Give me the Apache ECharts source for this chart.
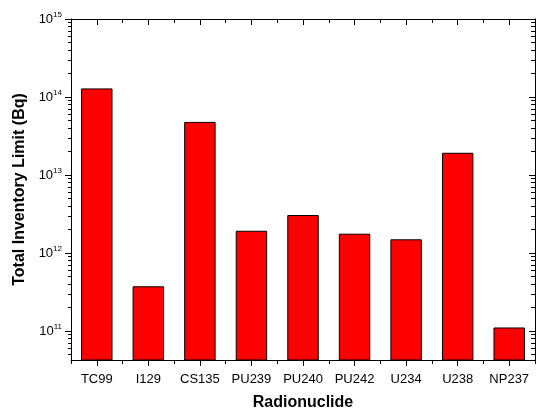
<!DOCTYPE html>
<html>
<head>
<meta charset="utf-8">
<script src="https://cdn.jsdelivr.net/npm/echarts@6/dist/echarts.min.js"></script>
<style>
  html, body { margin: 0; padding: 0; background: #fff; }
  #main { width: 538px; height: 410px; }
</style>
</head>
<body>
<div id="main"></div>
<script>
var nuclides = ['TC99', 'I129', 'CS135', 'PU239', 'PU240', 'PU242', 'U234', 'U238', 'NP237'];
var inventoryLimit = [1.29e14, 3.75e11, 4.8e13, 1.93e12, 3.07e12, 1.77e12, 1.5e12, 1.93e13, 1.11e11];
var majorTicks = [1e11, 1e12, 1e13, 1e14, 1e15];
var minorMults = [2, 3, 4, 5, 6, 7, 8, 9];
var decades = [1e10, 1e11, 1e12, 1e13, 1e14];

// max nudged a hair above 1e15 so the top tick/label survives float rounding
var yMin = 4.25e10, yMax = 1.002e15;

var minorTicks = [];
decades.forEach(function (d) {
  minorMults.forEach(function (m) {
    var v = m * d;
    if (v >= yMin && v <= yMax) minorTicks.push(v);
  });
});

var font = '"Liberation Sans", Arial, sans-serif';
var lineStyle = { color: '#000', width: 1 };

function yAxisBase(position, ticks, len, inside) {
  return {
    type: 'log',
    logBase: 10,
    min: yMin,
    max: yMax,
    position: position,
    axisLine: { show: false },
    splitLine: { show: false },
    axisLabel: { show: false },
    axisTick: { show: true, inside: inside, length: len, customValues: ticks, lineStyle: lineStyle }
  };
}

function xAxisBase(position, centered, len, inside) {
  return {
    type: 'category',
    data: nuclides,
    position: position,
    axisLine: { show: false },
    splitLine: { show: false },
    axisLabel: { show: false },
    axisTick: { show: true, interval: 0, alignWithLabel: centered, inside: inside, length: len, lineStyle: lineStyle }
  };
}

var myChart = echarts.init(document.getElementById('main'));

var xBottom = xAxisBase('bottom', true, 6, false);
xBottom.axisLine = { show: true, lineStyle: lineStyle };
xBottom.axisLabel = { show: true, interval: 0, hideOverlap: false, color: '#000', fontFamily: font, fontSize: 13, margin: 13 };
xBottom.name = 'Radionuclide';
xBottom.nameLocation = 'middle';
xBottom.nameGap = 35;
xBottom.nameTextStyle = { color: '#000', fontFamily: font, fontSize: 16, fontWeight: 'bold' };

var xTop = xAxisBase('top', true, 6, true);
xTop.axisLine = { show: true, lineStyle: lineStyle };

var yLeft = yAxisBase('left', majorTicks, 6, false);
yLeft.axisLine = { show: true, lineStyle: lineStyle };
yLeft.axisLabel = {
  show: true,
  customValues: majorTicks,
  showMinLabel: true,
  showMaxLabel: true,
  hideOverlap: false,
  margin: 9,
  formatter: function (v) {
    return '{b|10}{s|' + Math.round(Math.log10(v)) + '}';
  },
  rich: {
    b: { color: '#000', fontFamily: font, fontSize: 13 },
    s: { color: '#000', fontFamily: font, fontSize: 8, padding: [0, 0, 8, 0] }
  }
};
yLeft.name = 'Total Inventory Limit (Bq)';
yLeft.nameLocation = 'middle';
yLeft.nameGap = 43;
yLeft.nameTextStyle = { color: '#000', fontFamily: font, fontSize: 16, fontWeight: 'bold' };

var yRight = yAxisBase('right', majorTicks, 6, true);
yRight.axisLine = { show: true, lineStyle: lineStyle };

var option = {
  backgroundColor: '#fff',
  animation: false,
  grid: { left: 71, right: 3, top: 19, bottom: 50, containLabel: false, outerBoundsMode: 'none' },
  xAxis: [
    xBottom,
    xAxisBase('bottom', false, 4, false),
    xTop,
    xAxisBase('top', false, 4, true)
  ],
  yAxis: [
    yLeft,
    yAxisBase('left', minorTicks, 3, false),
    yRight,
    yAxisBase('right', minorTicks, 4, true)
  ],
  series: [
    {
      name: 'Total Inventory Limit',
      type: 'bar',
      data: inventoryLimit,
      xAxisIndex: 0,
      yAxisIndex: 0,
      barWidth: '61%',
      itemStyle: { color: '#ff0000', borderColor: '#000', borderWidth: 1 }
    }
  ]
};
myChart.setOption(option);

window.addEventListener('resize', function () {
  myChart.resize();
});
</script>
</body>
</html>
